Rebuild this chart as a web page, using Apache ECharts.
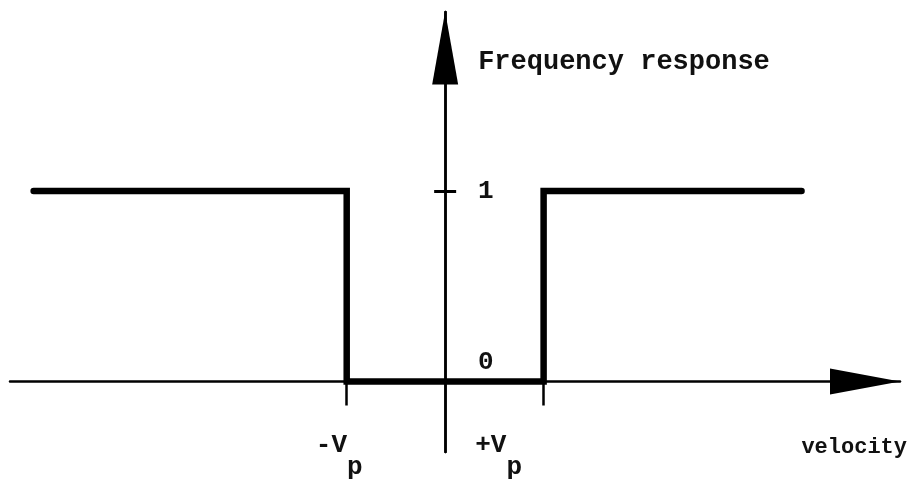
<!DOCTYPE html>
<html>
<head>
<meta charset="utf-8">
<script src="https://cdn.jsdelivr.net/npm/echarts@6/dist/echarts.min.js"></script>
<style>
  html, body { margin: 0; background: #fff; }
  #chart { width: 916px; height: 480px; }
</style>
</head>
<body>
<div id="chart"></div>
<script>
// 速度（以 Vp 为单位）
const velocity = [-4.18, -1, -1, 1, 1, 3.62];
// 频率响应
const response = [1, 1, 0, 0, 1, 1];
// 刻度
const xTicks = [-1, 1];   // -Vp, +Vp
const yTicks = [1];
const yLabels = [0, 1];
// 坐标轴范围
const xRange = [-4.42, 4.62];
const yRange = [-0.37, 1.94];

const font = "Liberation Mono";
const ink = "#000";
const textInk = "#111";
const weight = "bold";

const chart = echarts.init(document.getElementById("chart"));

chart.setOption({
  animation: false,
  backgroundColor: "#fff",
  grid: {
    left: 10,
    top: 12,
    width: 890,
    height: 440,
    containLabel: false,
    outerBoundsMode: "none",
  },
  xAxis: {
    type: "value",
    min: xRange[0],
    max: xRange[1],
    splitLine: { show: false },
    axisLine: {
      onZero: true,
      symbol: ["none", "triangle"],
      symbolSize: [26, 70],
      symbolOffset: [0, -35],
      lineStyle: { color: ink, width: 2.5 },
    },
    axisTick: {
      show: true,
      customValues: xTicks,
      length: 24,
      lineStyle: { color: ink, width: 2.5 },
    },
    axisLabel: {
      // 标签按网格底边定位，向上移到零线下方
      customValues: xTicks,
      margin: -42,
      formatter: (v) => (v < 0 ? "{a|-V}{as|p}" : "{b|+V}{bs|p}"),
      rich: {
        a: { fontFamily: font, fontWeight: weight, fontSize: 26, color: textInk },
        as: { fontFamily: font, fontWeight: weight, fontSize: 26, color: textInk, padding: [44, 15, 0, 0] },
        b: { fontFamily: font, fontWeight: weight, fontSize: 26, color: textInk },
        bs: { fontFamily: font, fontWeight: weight, fontSize: 26, color: textInk, padding: [44, 90, 0, 0] },
      },
    },
    name: "velocity",
    nameLocation: "end",
    nameGap: 7,
    nameMoveOverlap: false,
    nameTextStyle: {
      fontFamily: font,
      fontWeight: weight,
      fontSize: 22,
      color: textInk,
      align: "right",
      verticalAlign: "top",
      padding: [55, 0, 0, 0],
    },
  },
  yAxis: [
    {
      type: "value",
      min: yRange[0],
      max: yRange[1],
      splitLine: { show: false },
      axisLine: {
        onZero: true,
        symbol: ["none", "triangle"],
        symbolSize: [26, 73],
        symbolOffset: [0, -36],
        lineStyle: { color: ink, width: 2.5 },
      },
      axisTick: {
        show: true,
        customValues: yTicks,
        length: 11,
        lineStyle: { color: ink, width: 3 },
      },
      axisLabel: {
        // 标签按网格左边定位，移到纵轴右侧
        customValues: yLabels,
        inside: true,
        margin: 468,
        formatter: (v) => (v === 0 ? "{z|0}" : "{o|1}"),
        rich: {
          z: { fontFamily: font, fontWeight: weight, fontSize: 26, color: textInk, padding: [0, 0, 38, 0] },
          o: { fontFamily: font, fontWeight: weight, fontSize: 26, color: textInk },
        },
      },
      name: "Frequency response",
      nameLocation: "end",
      nameGap: 0,
      nameMoveOverlap: false,
      nameTextStyle: {
        fontFamily: font,
        fontWeight: weight,
        fontSize: 27,
        color: textInk,
        align: "left",
        verticalAlign: "top",
        padding: [37, 0, 0, 33],
      },
    },
    {
      // 让刻度 1 的短线穿过纵轴
      type: "value",
      position: "right",
      min: yRange[0],
      max: yRange[1],
      splitLine: { show: false },
      axisLine: {
        onZero: true,
        onZeroAxisIndex: 0,
        lineStyle: { color: ink, width: 2.5 },
      },
      axisTick: {
        show: true,
        customValues: yTicks,
        length: 11,
        lineStyle: { color: ink, width: 3 },
      },
      axisLabel: { show: false },
    },
  ],
  series: [
    {
      type: "line",
      data: velocity.map((v, i) => [v, response[i]]),
      symbol: "none",
      lineStyle: { color: ink, width: 6.5, cap: "round", join: "miter" },
      z: 3,
    },
  ],
});
</script>
</body>
</html>
